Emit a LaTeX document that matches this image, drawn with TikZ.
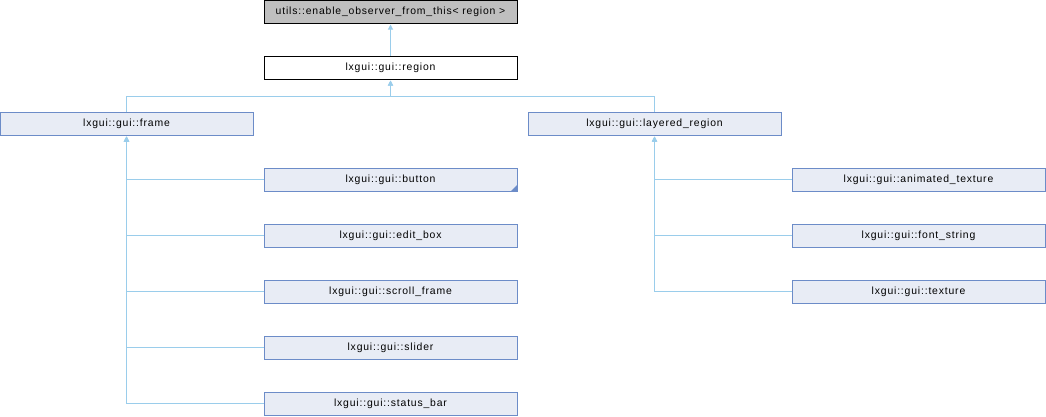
\documentclass[tikz,border=0pt]{standalone}
\usepackage{fontspec}
\setmainfont{Liberation Sans}[LetterSpace=8]
\usetikzlibrary{positioning,calc,arrows.meta}
\definecolor{dxfill}{HTML}{E8ECF5}
\definecolor{dxline}{HTML}{6C8CC8}
\definecolor{dxedge}{HTML}{9ACDEB}
\definecolor{dxgray}{HTML}{BFBFBF}
\tikzset{dbox/.style={draw=dxline, fill=dxfill, line width=1pt, minimum width=253pt, minimum height=23pt, inner sep=0pt, outer sep=0pt, font=\fontsize{10.4}{12}\selectfont}}
\tikzset{dboxg/.style={dbox, draw=black, fill=dxgray}}
\tikzset{dboxw/.style={dbox, draw=black, fill=white}}
\tikzset{inh/.style={draw=dxedge, line width=1pt, {Triangle[width=5pt,length=5pt]}-, shorten <=1.5pt}}
\begin{document}
\begin{tikzpicture}[x=1pt,y=1pt]
	\useasboundingbox (0,0) rectangle (1046,-416);
	\node[dboxw] (region) at (390.5,-67.5) {lxgui::gui::region};
	\node[dboxg,above=33pt of region] (obs) {utils::enable\_observer\_from\_this< region >};
	\node[dbox] (frame) at (126.5,-123.5) {lxgui::gui::frame};
	\node[dbox] (layered) at (654.5,-123.5) {lxgui::gui::layered\_region};
	% frame children
	\node[dbox] (button) at (390.5,-179.5) {lxgui::gui::button};
	\node[dbox,below=33pt of button] (editbox) {lxgui::gui::edit\_box};
	\node[dbox,below=33pt of editbox] (scroll) {lxgui::gui::scroll\_frame};
	\node[dbox,below=33pt of scroll] (slider) {lxgui::gui::slider};
	\node[dbox,below=33pt of slider] (status) {lxgui::gui::status\_bar};
	% layered_region children
	\node[dbox] (anim) at (918.5,-179.5) {lxgui::gui::animated\_texture};
	\node[dbox,below=33pt of anim] (fontstr) {lxgui::gui::font\_string};
	\node[dbox,below=33pt of fontstr] (texture) {lxgui::gui::texture};
	\fill[dxline] (button.south east) -- ++(-6,0) -- ++(6,6) -- cycle;
	\coordinate (bus) at ($(region.south)+(0,-17)$);
	\draw[inh] (obs) -- (region);
	\draw[inh] (region) -- (bus) -| (frame);
	\draw[inh] (region) -- (bus) -| (layered);
	\foreach \c in {button,editbox,scroll,slider,status}
		\draw[inh] (frame) |- (\c);
	\foreach \c in {anim,fontstr,texture}
		\draw[inh] (layered) |- (\c);
\end{tikzpicture}
\end{document}
